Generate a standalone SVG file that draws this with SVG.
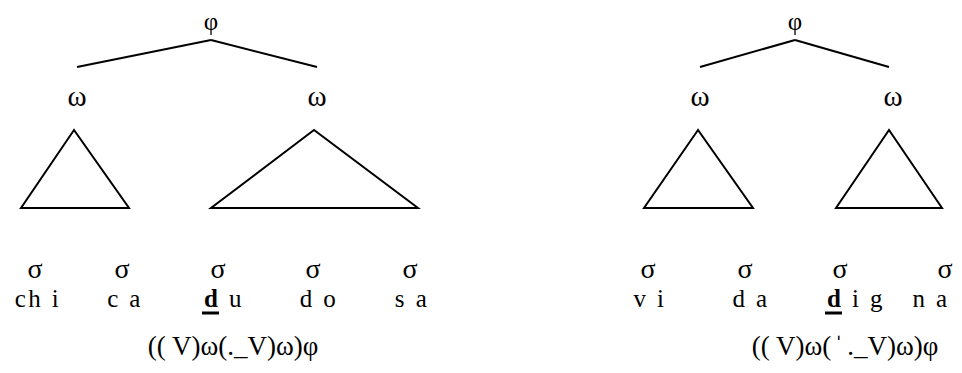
<svg xmlns="http://www.w3.org/2000/svg" width="962" height="373" viewBox="0 0 962 373">
<style>
text{font-family:"Liberation Serif","Times New Roman",serif;fill:#000}
.phi{font-size:25px;text-anchor:middle}
.lbl{font-size:29px;text-anchor:middle}
.sig{font-size:28px;text-anchor:middle}
.syl{font-size:25px;text-anchor:middle;letter-spacing:2.4px}
.frm{font-size:27px;text-anchor:middle}
.edge{stroke:#000;stroke-width:2;fill:none}
.tri{stroke:#000;stroke-width:2;fill:none;stroke-linejoin:miter}
.ul{stroke:#000;stroke-width:3}
</style>
<g id="connectors">
<line class="edge" x1="211" y1="40" x2="77" y2="67"/>
<line class="edge" x1="211" y1="40" x2="317" y2="67"/>
<line class="edge" x1="795" y1="40" x2="700" y2="67"/>
<line class="edge" x1="795" y1="40" x2="889" y2="67"/>
</g>
<g id="tree1-phi"><text class="phi" x="211" y="30">φ</text></g>
<g id="tree1-w1"><text class="lbl" x="77" y="106">ω</text></g>
<g id="tree1-w2"><text class="lbl" x="317" y="106">ω</text></g>
<g id="tree1-tri1"><polygon class="tri" points="74,130 21,208 129,208"/></g>
<g id="tree1-tri2"><polygon class="tri" points="314,130 211,208 418,208"/></g>
<g id="tree1-syllables">
<text class="sig" x="35" y="278">σ</text>
<text class="sig" x="122" y="278">σ</text>
<text class="sig" x="218" y="278">σ</text>
<text class="sig" x="313" y="278">σ</text>
<text class="sig" x="410" y="278">σ</text>
<text class="syl" x="38" y="307">ch i</text>
<text class="syl" x="125" y="307">c a</text>
<text class="syl" x="224" y="307"><tspan font-weight="bold">d</tspan> u</text>
<text class="syl" x="319" y="307">d o</text>
<text class="syl" x="412" y="307">s a</text>
<line class="ul" x1="202" y1="313" x2="219" y2="313"/>
</g>
<g id="tree1-formula"><text class="frm" x="233" y="355">(( V)ω(._V)ω)φ</text></g>
<g id="tree2-phi"><text class="phi" x="795" y="30">φ</text></g>
<g id="tree2-w1"><text class="lbl" x="700" y="106">ω</text></g>
<g id="tree2-w2"><text class="lbl" x="893" y="106">ω</text></g>
<g id="tree2-tri1"><polygon class="tri" points="698,130 644,208 753,208"/></g>
<g id="tree2-tri2"><polygon class="tri" points="889,130 836,208 942,208"/></g>
<g id="tree2-syllables">
<text class="sig" x="648" y="278">σ</text>
<text class="sig" x="745" y="278">σ</text>
<text class="sig" x="840" y="278">σ</text>
<text class="sig" x="945" y="278">σ</text>
<text class="syl" x="650" y="307">v i</text>
<text class="syl" x="751" y="307">d a</text>
<text class="syl" x="856" y="307"><tspan font-weight="bold">d</tspan> i g</text>
<text class="syl" x="931" y="307">n a</text>
<line class="ul" x1="825" y1="313" x2="842" y2="313"/>
</g>
<g id="tree2-formula"><text class="frm" x="845" y="355">(( V)ω(<tspan dx="3">ˈ</tspan><tspan dx="4">.</tspan>_V)ω)φ</text></g>
</svg>
